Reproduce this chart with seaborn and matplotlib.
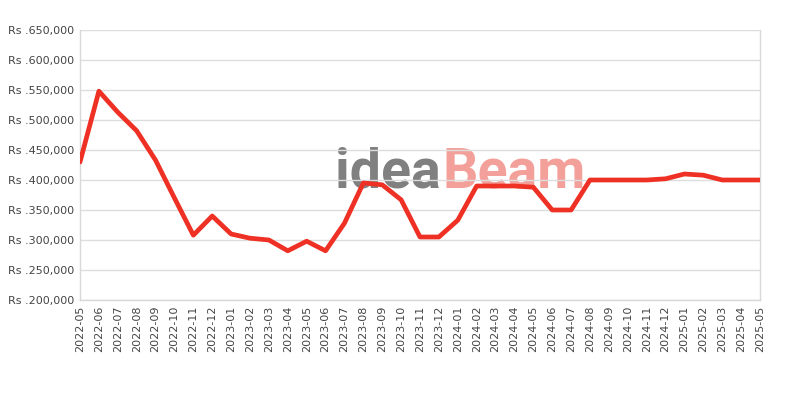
import matplotlib
matplotlib.use("Agg")
import matplotlib.pyplot as plt
import seaborn as sns
import pandas as pd
import numpy as np

months = ["2022-05","2022-06","2022-07","2022-08","2022-09","2022-10","2022-11","2022-12",
          "2023-01","2023-02","2023-03","2023-04","2023-05","2023-06","2023-07","2023-08",
          "2023-09","2023-10","2023-11","2023-12","2024-01","2024-02","2024-03","2024-04",
          "2024-05","2024-06","2024-07","2024-08","2024-09","2024-10","2024-11","2024-12",
          "2025-01","2025-02","2025-03","2025-04","2025-05"]
prices = [430000, 548000, 513000, 482000, 433000, 370000, 308000, 340000,
          310000, 303000, 300000, 282000, 298000, 282000, 328000, 395000,
          392000, 367000, 305000, 305000, 333000, 390000, 390000, 390000,
          388000, 350000, 350000, 400000, 400000, 400000, 400000, 402000,
          410000, 408000, 400000, 400000, 400000]
yticks = [200000, 250000, 300000, 350000, 400000, 450000, 500000, 550000, 600000, 650000]

df = pd.DataFrame({"idx": np.arange(len(months)), "price": prices})

sns.set_theme(style="white")
plt.rcParams['font.family'] = ['DejaVu Sans']
fig = plt.figure(figsize=(8, 4), dpi=100)
ax = fig.add_axes([0.1, 0.25, 0.85, 0.675])

# watermark
wm_font = ['Liberation Sans Narrow', 'Roboto', 'DejaVu Sans']
t1 = fig.text(335/800, 1 - 188/400, "idea", fontsize=40, color="#808080", ha="left",
              va="baseline", family=wm_font, weight="bold", zorder=-1)
fig.canvas.draw()
bb = t1.get_window_extent(renderer=fig.canvas.get_renderer())
fig.text(bb.x1/800 + 0.002, 1 - 188/400, "Beam", fontsize=40, color="#f4a09a", ha="left",
         va="baseline", family=wm_font, weight="bold", zorder=-1)

sns.lineplot(data=df, x="idx", y="price", ax=ax, color="#ee3124", linewidth=3.4, zorder=3)
ax.patch.set_alpha(0)

ax.set_xlim(0, len(months) - 1)
ax.set_ylim(200000, 650000)
ax.set_xticks(np.arange(len(months)))
ax.set_xticklabels(months, rotation=90, fontsize=8, color="#444444")
ax.set_yticks(yticks)
ax.set_yticklabels([f"Rs .{v:,}" for v in yticks], fontsize=8, color="#444444")
ax.tick_params(axis="both", length=0, pad=4)
ax.grid(axis="y", color="#dddddd", linewidth=1)
ax.set_xlabel("")
ax.set_ylabel("")
for s in ["left", "right", "bottom"]:
    ax.spines[s].set_color("#d8d8d8")
    ax.spines[s].set_linewidth(1)
ax.spines["top"].set_visible(False)

fig.savefig("out.png", dpi=100)
